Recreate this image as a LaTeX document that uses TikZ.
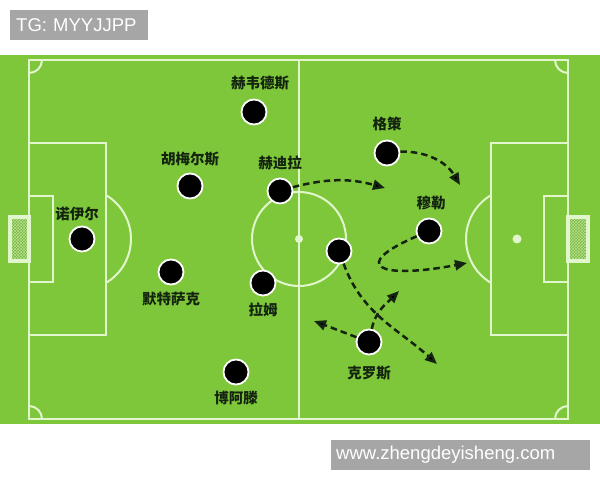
\documentclass[tikz,border=0pt]{standalone}
\usepackage{fontspec}
\usepackage{tikz}
\usetikzlibrary{arrows,arrows.meta,positioning,patterns}
\newfontfamily\cjk{Noto Sans CJK SC}
\newfontfamily\tagfont{Liberation Sans}
\definecolor{pitch}{RGB}{126,199,58}
\definecolor{chalk}{RGB}{226,246,206}
\definecolor{netgreen}{RGB}{118,182,62}
\definecolor{ink}{RGB}{20,36,16}
\definecolor{tag}{RGB}{166,166,166}

\begin{document}
\begin{tikzpicture}
	[x=1pt,y=1pt,>={Triangle[length=12pt,width=10pt]},node distance=7pt,
		player/.style={circle,draw=white,fill=black,line width=1.8pt,minimum size=25pt,inner sep=0pt},
		plabel/.style={font=\cjk\bfseries\fontsize{14.5}{14.5}\selectfont,text=ink,inner sep=0pt},
		run/.style={->,draw=ink,line width=2.5pt,dash pattern=on 6.5pt off 4pt},
		chalkline/.style={draw=chalk,line width=2pt},
		tagbox/.style={fill=tag,text=white,font=\tagfont\fontsize{18.5}{20}\selectfont,minimum height=30pt,align=left,inner ysep=0pt}]

	\useasboundingbox (0,0) rectangle (600,480);
	\fill[white] (0,0) rectangle (600,480);
	\fill[pitch] (0,56) rectangle (600,425);

	% pitch markings
	\draw[chalkline] (29,61) rectangle (568,420);
	\draw[chalkline] (299,61) -- (299,420);
	\draw[chalkline] (299,241) circle (47);
	\fill[chalk] (299,241) circle (4);
	\draw[chalkline] (29,145) rectangle (106,337);
	\draw[chalkline] (29,198) rectangle (53,284);
	\draw[chalkline] (80,241) ++(-59:51) arc (-59:59:51);
	\draw[chalkline] (491,145) rectangle (568,337);
	\draw[chalkline] (544,198) rectangle (568,284);
	\draw[chalkline] (517,241) ++(121:51) arc (121:239:51);
	\fill[chalk] (517,241) circle (4.5);
	\draw[chalkline] (29,407) arc (-90:0:13);
	\draw[chalkline] (42,61) arc (0:90:13);
	\draw[chalkline] (555,420) arc (180:270:13);
	\draw[chalkline] (568,74) arc (90:180:13);

	% goals
	\foreach \gx/\gw in {10/19,568/20}{
		\fill[netgreen] (\gx,219) rectangle ++(\gw,44);
		\fill[pattern=crosshatch,pattern color=chalk!60!pitch] (\gx,219) rectangle ++(\gw,44);
		\draw[chalk,line width=3.5pt] (\gx,219) rectangle ++(\gw,44);
	}

	\node[player] (hoe) at (254,368) {};
	\node[player] (hum) at (190,294) {};
	\node[player] (khe) at (280,289) {};
	\node[player] (neu) at (82,241) {};
	\node[player] (mer) at (171,208) {};
	\node[player] (lah) at (263,197) {};
	\node[player] (boa) at (236,108) {};
	\node[player] (goe) at (387,327) {};
	\node[player] (mue) at (429,249) {};
	\node[player] (oez) at (339,229) {};
	\node[player] (kro) at (369,138) {};

	\node[plabel,above=8pt of hoe,xshift=6pt] (hoe-l) {赫韦德斯};
	\node[plabel,above=6pt of hum] (hum-l) {胡梅尔斯};
	\node[plabel,above=7pt of khe] (khe-l) {赫迪拉};
	\node[plabel,above=4pt of neu,xshift=-5pt] (neu-l) {诺伊尔};
	\node[plabel,below=6pt of mer] (mer-l) {默特萨克};
	\node[plabel,below=6pt of lah] (lah-l) {拉姆};
	\node[plabel,below=5pt of boa] (boa-l) {博阿滕};
	\node[plabel,above=9pt of goe] (goe-l) {格策};
	\node[plabel,above=7pt of mue,xshift=2pt] (mue-l) {穆勒};
	\node[plabel,below=10pt of kro] (kro-l) {克罗斯};

	\coordinate (t1) at (385,292);
	\coordinate (t2) at (460,295);
	\coordinate (t3) at (467,217);
	\coordinate (t4) at (437,116);
	\coordinate (t5) at (399,189);
	\coordinate (t6) at (314,159);

	\path[run]
	(khe) edge [bend left=15]          (t1)
	(goe) edge [bend left=30]          (t2)
	(oez) edge [out=-70,in=138]        (t4)
	(kro) edge [out=78,in=225]         (t5)
	(kro) edge                         (t6)
	;
	\draw[run] (mue) .. controls +(-79,-34) and +(-90,-17) .. (t3);

	\node[tagbox,anchor=south west,text width=126pt,inner xsep=6pt] (tg) at (10,440) {TG: MYYJJPP};
	\node[tagbox,anchor=south west,text width=249pt,inner xsep=5pt] (web) at (331,10) {www.zhengdeyisheng.com};

\end{tikzpicture}
\end{document}
